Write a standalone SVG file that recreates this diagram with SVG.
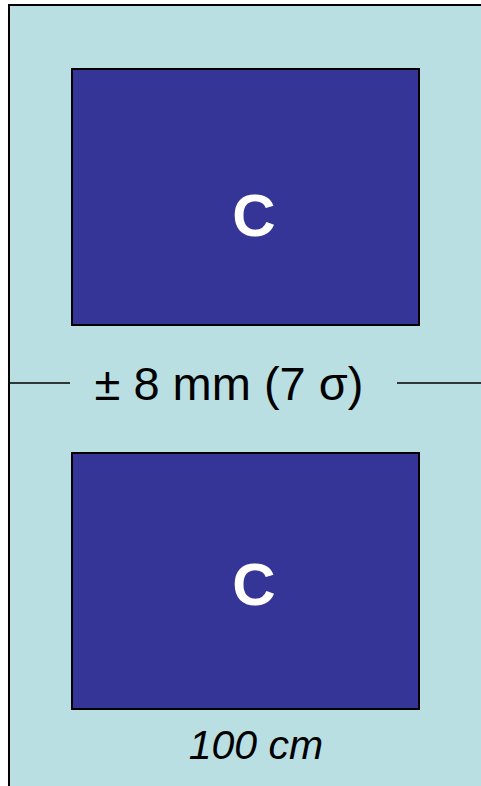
<svg xmlns="http://www.w3.org/2000/svg" width="481" height="786" viewBox="0 0 481 786">
<style>
.box{fill:#343596;stroke:#000;stroke-width:2}
.lbl{font-family:"Liberation Sans",Arial,sans-serif;font-weight:bold;font-size:60px;fill:#fff;text-anchor:middle}
.txt{font-family:"Liberation Sans",Arial,sans-serif;fill:#000}
.ln{stroke:#000;stroke-width:1.5}
</style>
<rect x="0" y="0" width="481" height="786" fill="#fff"/>
<rect x="9" y="5" width="480" height="790" fill="#b9dfe2" stroke="#000" stroke-width="2"/>
<g id="connectors">
<line class="ln" x1="10" y1="383" x2="70" y2="383"/>
<line class="ln" x1="397" y1="383" x2="481" y2="383"/>
</g>
<g id="c1">
<rect class="box" x="72" y="69" width="347" height="256"/>
<text class="lbl" x="254" y="236">C</text>
</g>
<g id="c2">
<rect class="box" x="72" y="453" width="347" height="256"/>
<text class="lbl" x="254" y="605">C</text>
</g>
<text class="txt" x="229" y="400" font-size="47" text-anchor="middle">± 8 mm (7 σ)</text>
<text class="txt" x="256" y="759" font-size="41" font-style="italic" text-anchor="middle">100 cm</text>
</svg>
